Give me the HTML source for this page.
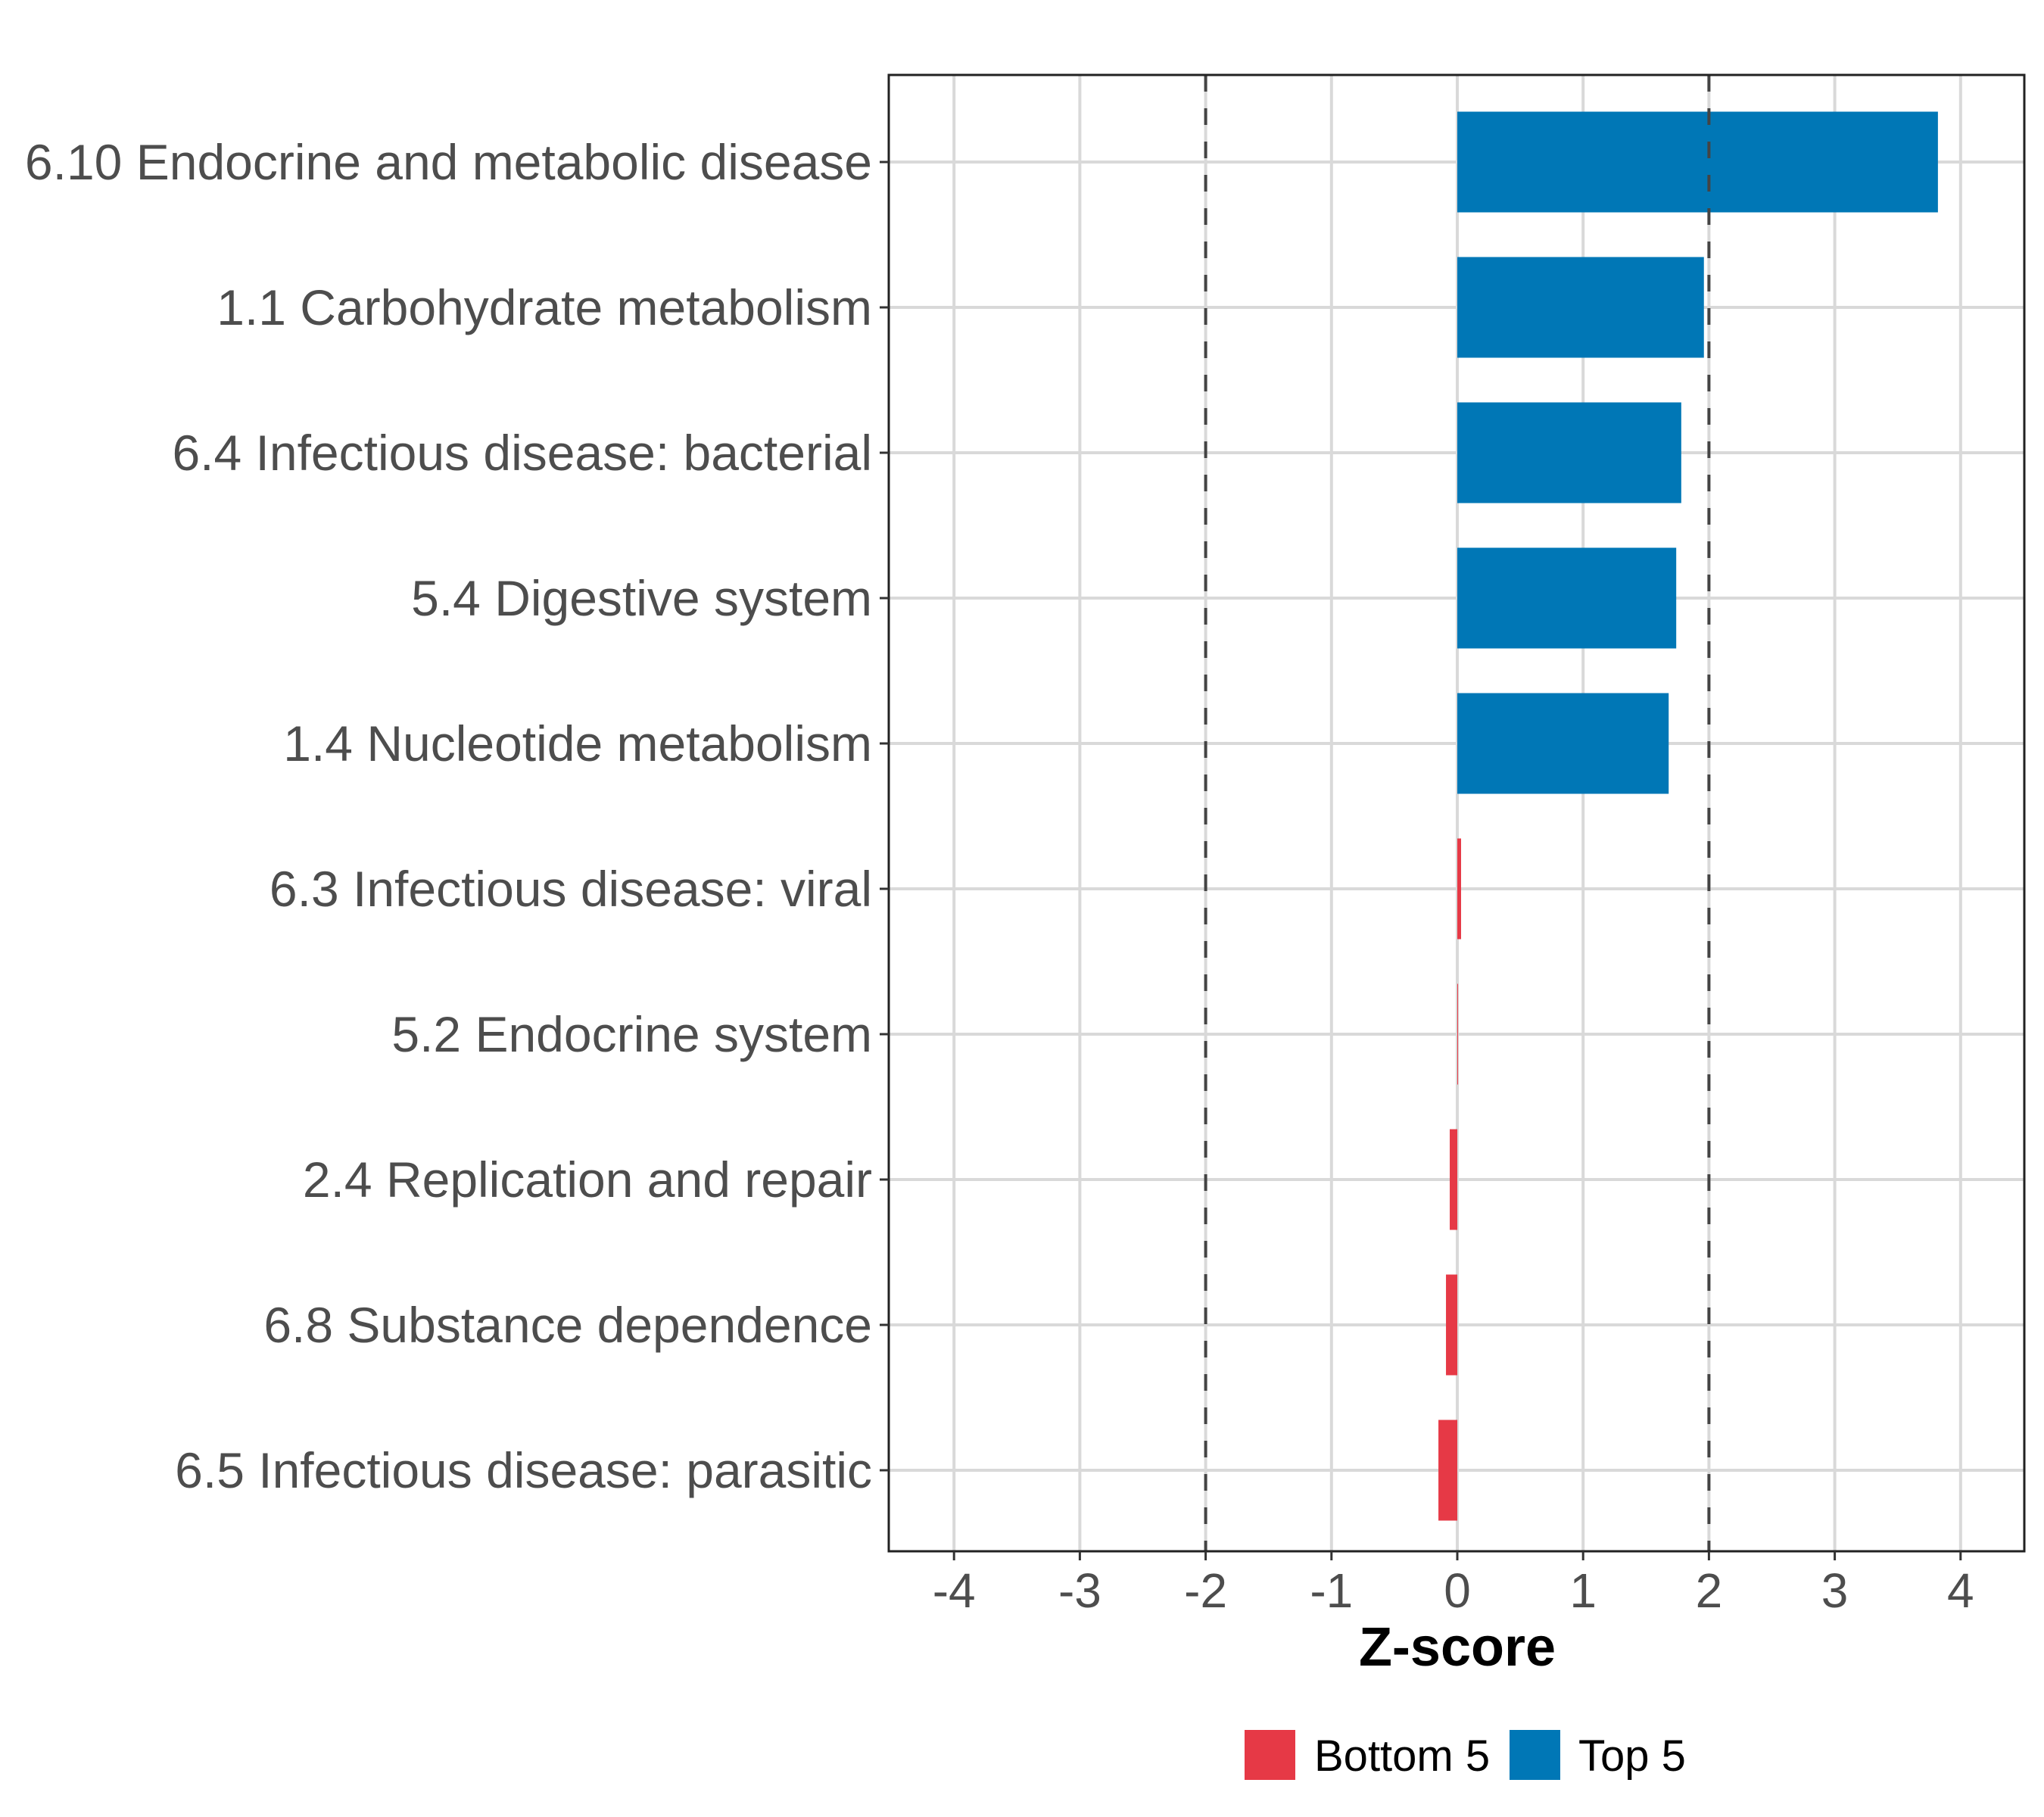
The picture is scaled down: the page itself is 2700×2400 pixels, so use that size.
<!DOCTYPE html>
<html><head><meta charset="utf-8"><style>body{margin:0;background:#fff}svg{display:block}</style></head>
<body>
<svg id="chart" width="2700" height="2400" xmlns="http://www.w3.org/2000/svg" font-family="Liberation Sans, sans-serif">
<g id="grid"></g>
<g id="bars"></g>
<g id="refs"></g>
<rect x="1174" y="99" width="1500" height="1950" fill="none" stroke="#222" stroke-width="3"/>
<g id="yaxis"></g>
<g id="xaxis"></g>
<text x="1925" y="2200" font-size="72" font-weight="bold" text-anchor="middle" fill="#000">Z-score</text>
<g>
<rect x="1644" y="2285" width="67" height="66" fill="#e63946"/>
<text x="1736" y="2339" font-size="58" fill="#000">Bottom 5</text>
<rect x="1994" y="2285" width="67" height="66" fill="#0077b6"/>
<text x="2085" y="2339" font-size="58" fill="#000">Top 5</text>
</g>
</svg>
<script>
const categories = ["6.10 Endocrine and metabolic disease","1.1 Carbohydrate metabolism","6.4 Infectious disease: bacterial","5.4 Digestive system","1.4 Nucleotide metabolism","6.3 Infectious disease: viral","5.2 Endocrine system","2.4 Replication and repair","6.8 Substance dependence","6.5 Infectious disease: parasitic"];
const values = [3.82, 1.96, 1.78, 1.74, 1.68, 0.03, 0.005, -0.06, -0.09, -0.15];
const groups = ["Top 5","Top 5","Top 5","Top 5","Top 5","Bottom 5","Bottom 5","Bottom 5","Bottom 5","Bottom 5"];
const xTicks = [-4,-3,-2,-1,0,1,2,3,4];
const refLines = [-2, 2];
const NS="http://www.w3.org/2000/svg";
const L=1174,R=2674,T=99,B=2049;
const x=v=>1925+v*166.2;
const y=i=>214+i*192;
function mk(t,a,p){const e=document.createElementNS(NS,t);for(const k in a)e.setAttribute(k,a[k]);p.appendChild(e);return e;}
const grid=document.getElementById('grid'),bars=document.getElementById('bars'),refs=document.getElementById('refs'),ya=document.getElementById('yaxis'),xa=document.getElementById('xaxis');
xTicks.forEach(v=>{const g=mk('line',{x1:x(v),x2:x(v),y1:T,y2:B,stroke:'#d9d9d9','stroke-width':4},grid);


const t=mk('line',{x1:x(v),x2:x(v),y1:B,y2:B+12,stroke:'#333','stroke-width':3},xa);


const l=mk('text',{x:x(v),y:B+74,'font-size':64,'text-anchor':'middle',fill:'#4d4d4d'},xa);l.textContent=String(v);

});
categories.forEach((c,i)=>{const g=mk('line',{x1:L,x2:R,y1:y(i),y2:y(i),stroke:'#d9d9d9','stroke-width':4},grid);


const v=values[i];const r=mk('rect',{x:Math.min(x(0),x(v)),y:y(i)-66.5,width:Math.max(Math.abs(x(v)-x(0)),1),height:133,fill:groups[i]==='Top 5'?'#0077b6':'#e63946'},bars);


const t=mk('line',{x1:L-12,x2:L,y1:y(i),y2:y(i),stroke:'#333','stroke-width':3},ya);


const l=mk('text',{x:L-22,y:y(i)+23,'font-size':66,'text-anchor':'end',fill:'#4d4d4d'},ya);l.textContent=c;

});
refLines.forEach(v=>{const d=mk('line',{x1:x(v),x2:x(v),y1:T,y2:B,stroke:'#444','stroke-width':4,'stroke-dasharray':'22 22'},refs);

});
</script>
</body></html>
